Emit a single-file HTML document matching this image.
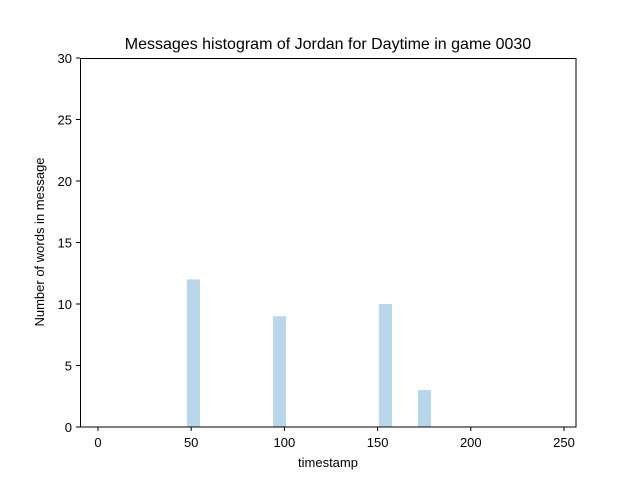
<!DOCTYPE html>
<html><head><meta charset="utf-8"><style>
body{margin:0;background:#fff;}
svg{display:block;font-family:"Liberation Sans","DejaVu Sans",sans-serif;}
</style></head><body>
<svg id="chart" width="640" height="480">
<rect width="640" height="480" fill="#fff"/>
<text x="328" y="49" font-size="16" text-anchor="middle">Messages histogram of Jordan for Daytime in game 0030</text>
<g id="bars"></g>
<rect x="80.5" y="58.5" width="495.5" height="368.5" fill="none" stroke="#000" stroke-width="1"/>
<g id="xticks"></g><g id="yticks"></g>
<text x="328" y="467" font-size="13" text-anchor="middle">timestamp</text>
<text transform="translate(44,242) rotate(-90)" font-size="13" text-anchor="middle">Number of words in message</text>
</svg>
<script>
const binStarts=[47.7,93.9,150.7,171.7];
const binCounts=[12,9,10,3];
const binWidth=7;
const xTicks=[0,50,100,150,200,250];
const yTicks=[0,5,10,15,20,25,30];
const ns="http://www.w3.org/2000/svg";
const xs=v=>98+v*1.864;
const ys=v=>427-v*(369/30);
const bars=document.getElementById('bars');
binStarts.forEach((s,i)=>{
 const r=document.createElementNS(ns,'rect');
 r.setAttribute('x',xs(s));r.setAttribute('width',xs(s+binWidth)-xs(s));
 r.setAttribute('y',ys(binCounts[i]));r.setAttribute('height',ys(0)-ys(binCounts[i]));
 r.setAttribute('fill','#bad6ea');
 
 
 bars.appendChild(r);
});
const xt=document.getElementById('xticks');
xTicks.forEach(t=>{
 const x=xs(t);
 const l=document.createElementNS(ns,'line');
 l.setAttribute('x1',x);l.setAttribute('x2',x);l.setAttribute('y1',427);l.setAttribute('y2',431);l.setAttribute('stroke','#000');
 
 
 xt.appendChild(l);
 const tx=document.createElementNS(ns,'text');
 tx.setAttribute('x',x);tx.setAttribute('y',447);tx.setAttribute('font-size','13');tx.setAttribute('text-anchor','middle');
 tx.textContent=t;
 
 
 xt.appendChild(tx);
});
const yt=document.getElementById('yticks');
yTicks.forEach(t=>{
 const y=ys(t);
 const l=document.createElementNS(ns,'line');
 l.setAttribute('x1',76);l.setAttribute('x2',80);l.setAttribute('y1',y);l.setAttribute('y2',y);l.setAttribute('stroke','#000');
 
 
 yt.appendChild(l);
 const tx=document.createElementNS(ns,'text');
 tx.setAttribute('x',72);tx.setAttribute('y',y+5);tx.setAttribute('font-size','13');tx.setAttribute('text-anchor','end');
 tx.textContent=t;
 
 
 yt.appendChild(tx);
});
</script>
</body></html>
